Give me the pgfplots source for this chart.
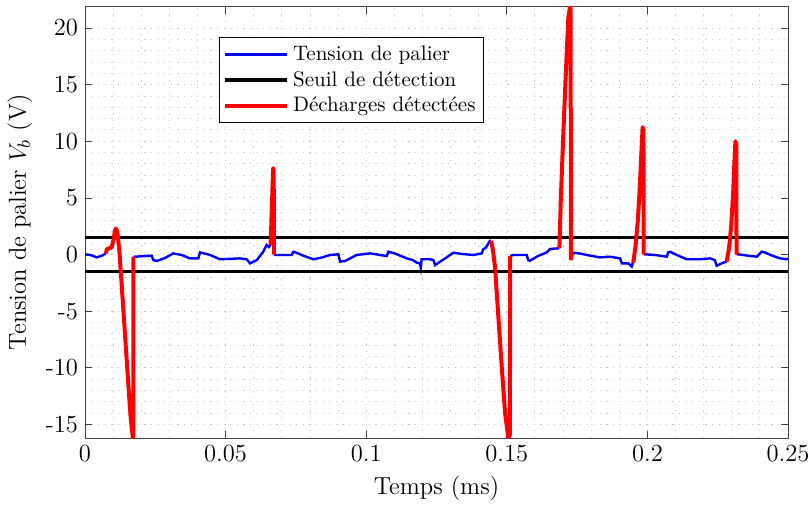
\documentclass[border=0pt]{standalone}
\usepackage{pgfplots}
\pgfplotsset{compat=1.18}
\begin{document}
\begin{tikzpicture}
\begin{axis}[
  scale only axis,
  width=351.5pt, height=215.75pt,
  xmin=0, xmax=0.25, ymin=-16.2, ymax=21.9,
  xtick={0,0.05,0.1,0.15,0.2,0.25},
  xticklabels={0,0.05,0.1,0.15,0.2,0.25},
  ytick={-15,-10,-5,0,5,10,15,20},
  yticklabels={-15,-10,-5,0,5,10,15,20},
  minor x tick num=4, minor y tick num=4,
  minor tick length=0pt,
  major tick length=3.5pt,
  tick align=inside,
  tick style={black!75, line width=0.4pt},
  axis line style={black!75, line width=0.5pt},
  grid=both,
  major grid style={gray!45, dash pattern=on 0.6pt off 2.7pt, line width=0.45pt},
  minor grid style={gray!40, dash pattern=on 0.6pt off 2.7pt, line width=0.45pt},
  ticklabel style={font=\fontsize{12.3}{14}\selectfont},
  label style={font=\fontsize{12.3}{14}\selectfont},
  xlabel={Temps (ms)},
  ylabel={Tension de palier $V_b$ (V)},
  unbounded coords=jump,
  legend cell align=left,
  legend style={at={(0.19,0.929)}, anchor=north west, draw=black, line width=0.5pt,
    fill=white, font=\fontsize{10.5}{12}\selectfont, inner xsep=2pt, inner ysep=2pt,
    row sep=0pt},
  legend image code/.code={\draw[#1] (0pt,0pt) -- (31pt,0pt);},
]
\addplot[blue, line width=1.2pt] coordinates {
(0,0.02)(0.0021,-0.05)(0.0042,-0.25)(0.006,-0.1)(0.0075,0.1)
(0.0076,nan)
(0.0172,-0.2)(0.0178,-0.19)(0.0237,-0.1)(0.0243,-0.49)(0.0255,-0.57)(0.0284,-0.31)(0.0314,0.1)(0.0345,-0.05)(0.0373,-0.34)(0.0403,-0.34)(0.0409,0.19)(0.0445,-0.04)(0.0480,-0.42)(0.0551,-0.34)(0.0575,-0.42)(0.0587,-0.78)(0.0611,-0.49)(0.0633,0.22)(0.0646,0.84)(0.0654,0.66)(0.0660,0.84)
(0.0661,nan)
(0.0672,0.0)(0.0676,-0.04)(0.0735,-0.04)(0.0741,0.25)(0.0750,0.18)(0.0775,-0.09)(0.0812,-0.42)(0.0843,-0.26)(0.0871,-0.04)(0.0901,0.02)(0.0907,-0.63)(0.0925,-0.57)(0.0966,-0.04)(0.1014,0.1)(0.1049,-0.04)(0.1073,-0.13)(0.1079,0.25)(0.1102,0.09)(0.1144,-0.34)(0.1166,-0.49)(0.1180,-0.72)(0.1191,-0.78)(0.1194,-1.16)(0.1197,-0.42)(0.1227,-0.42)(0.1239,-0.49)(0.1245,-0.93)(0.1277,-0.4)(0.1310,0.16)(0.1344,0.04)(0.1381,-0.04)(0.1411,0.1)(0.1416,0.46)(0.1426,0.62)(0.1440,1.22)(0.1444,1.22)
(0.1445,nan)
(0.1512,-0.13)(0.1523,-0.04)(0.1547,-0.04)(0.1571,-0.04)(0.1576,-0.49)(0.1582,-0.55)(0.1611,-0.13)(0.1642,0.19)(0.1654,0.49)(0.1683,0.55)(0.1687,0.55)
(0.1688,nan)
(0.1728,-0.5)(0.1736,0.16)(0.1760,0.09)(0.1784,-0.04)(0.1831,-0.25)(0.1867,-0.19)(0.1903,-0.34)(0.1909,-0.78)(0.1932,-0.78)(0.1944,-1.07)(0.1948,-0.72)(0.1950,-0.72)
(0.1951,nan)
(0.1987,0.0)(0.1991,0.02)(0.2027,-0.04)(0.2069,-0.19)(0.2074,0.19)(0.2080,0.25)(0.2109,-0.09)(0.2140,-0.42)(0.2187,-0.42)(0.2223,-0.34)(0.2240,-0.49)(0.2246,-0.99)(0.2270,-0.72)(0.2282,-0.63)
(0.2283,nan)
(0.2317,0.0)(0.2323,0.02)(0.2354,-0.09)(0.2389,-0.19)(0.2406,0.25)(0.2418,0.18)(0.2443,-0.09)(0.2472,-0.34)(0.2495,-0.42)(0.2500,-0.34)
};
\addlegendentry{Tension de palier}
\addplot[black, line width=1.7pt] coordinates {(0,1.5)(0.25,1.5)};
\addlegendentry{Seuil de d\'etection}
\addplot[black, line width=1.7pt, forget plot] coordinates {(0,-1.5)(0.25,-1.5)};
\addplot[red, line width=2pt, line join=round] coordinates {
(0.0075,0.1)(0.0077,0.46)(0.0095,0.63)(0.0101,1.28)(0.0107,2.16)(0.0110,2.3)(0.0115,2.0)(0.0122,0.4)(0.0130,-2.5)(0.0142,-6.95)(0.0154,-11.4)(0.0162,-14.3)(0.0170,-16.18)(0.0172,-15.9)(0.0172,-0.2)
(0.0173,nan)
(0.0660,0.84)(0.0665,4.5)(0.0669,7.63)(0.0671,7.4)(0.0672,0.0)
(0.0673,nan)
(0.1444,1.22)(0.1450,0.5)(0.1458,-1.07)(0.1470,-5.5)(0.1482,-9.9)(0.1494,-14.0)(0.1505,-16.18)(0.1511,-15.9)(0.1512,-0.13)
(0.1513,nan)
(0.1687,0.55)(0.1692,4.8)(0.1701,10.7)(0.1711,16.6)(0.1719,21.0)(0.1725,21.9)(0.1727,21.6)(0.1728,-0.5)
(0.1729,nan)
(0.1950,-0.72)(0.1958,0.8)(0.1966,3.0)(0.1973,6.0)(0.1979,9.2)(0.1983,11.24)(0.1986,11.0)(0.1987,0.0)
(0.1988,nan)
(0.2282,-0.63)(0.2290,0.5)(0.2298,2.5)(0.2305,5.5)(0.2310,8.5)(0.2313,10.0)(0.2316,9.8)(0.2317,0.0)
};
\addlegendentry{D\'echarges d\'etect\'ees}
\end{axis}
\pgfresetboundingbox
\path[use as bounding box] ([xshift=-42.5pt,yshift=-35.5pt]current axis.south west) rectangle ([xshift=12pt,yshift=3.25pt]current axis.north east);
\end{tikzpicture}
\end{document}
